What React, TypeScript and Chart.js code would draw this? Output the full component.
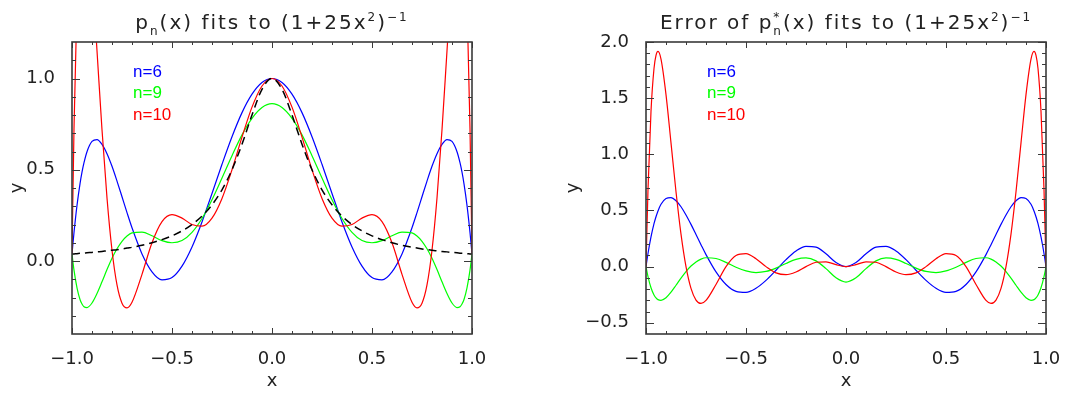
import React, { useEffect, useRef } from 'react';
import { Chart, registerables } from 'chart.js';

Chart.register(...registerables);

// ---------------- data ----------------
const xValues = [
  -1, -0.99, -0.975, -0.96, -0.95, -0.94, -0.925, -0.9, -0.875, -0.85, -0.825, -0.8, -0.775, -0.75, -0.725,
  -0.7, -0.65, -0.6, -0.55, -0.5, -0.45, -0.4, -0.35, -0.3, -0.25, -0.2, -0.15, -0.1, -0.05,
  0,
  0.05, 0.1, 0.15, 0.2, 0.25, 0.3, 0.35, 0.4, 0.45, 0.5, 0.55, 0.6, 0.65, 0.7,
  0.725, 0.75, 0.775, 0.8, 0.825, 0.85, 0.875, 0.9, 0.925, 0.94, 0.95, 0.96, 0.975, 0.99, 1,
];

// f(x) = (1+25x^2)^-1, black dashed
const fValues = [
  0.038, 0.039, 0.040, 0.042, 0.042, 0.043, 0.045, 0.047, 0.050, 0.052, 0.056, 0.059, 0.062, 0.066, 0.071,
  0.075, 0.086, 0.100, 0.117, 0.138, 0.165, 0.200, 0.246, 0.308, 0.390, 0.500, 0.640, 0.800, 0.941,
  1.000,
  0.941, 0.800, 0.640, 0.500, 0.390, 0.308, 0.246, 0.200, 0.165, 0.138, 0.117, 0.100, 0.086, 0.075,
  0.071, 0.066, 0.062, 0.059, 0.056, 0.052, 0.050, 0.047, 0.045, 0.043, 0.042, 0.042, 0.040, 0.039, 0.038,
];

// p6 (blue)
const p6Values = [
  0.038, 0.156, 0.305, 0.423, 0.487, 0.539, 0.599, 0.655, 0.665, 0.639, 0.588, 0.519, 0.438, 0.352, 0.265,
  0.182, 0.039, -0.059, -0.103, -0.091, -0.028, 0.077, 0.214, 0.370, 0.530, 0.681, 0.813, 0.914, 0.978,
  1.000,
  0.978, 0.914, 0.813, 0.681, 0.530, 0.370, 0.214, 0.077, -0.028, -0.091, -0.103, -0.059, 0.039, 0.182,
  0.265, 0.352, 0.438, 0.519, 0.588, 0.639, 0.665, 0.655, 0.599, 0.539, 0.487, 0.423, 0.305, 0.156, 0.038,
];

// p9 (green)
const p9Values = [
  0.038, -0.050, -0.147, -0.211, -0.236, -0.251, -0.255, -0.230, -0.178, -0.114, -0.047, 0.015, 0.067, 0.108, 0.137,
  0.154, 0.158, 0.138, 0.112, 0.100, 0.112, 0.157, 0.233, 0.336, 0.455, 0.577, 0.691, 0.782, 0.841,
  0.862,
  0.841, 0.782, 0.691, 0.577, 0.455, 0.336, 0.233, 0.157, 0.112, 0.100, 0.112, 0.138, 0.158, 0.154,
  0.137, 0.108, 0.067, 0.015, -0.047, -0.114, -0.178, -0.230, -0.255, -0.251, -0.236, -0.211, -0.147, -0.050, 0.038,
];

// p10 (red)
const p10Values = [
  0.038, 0.726, 1.423, 1.805, 1.924, 1.959, 1.893, 1.579, 1.152, 0.719, 0.345, 0.059, -0.131, -0.231, -0.257,
  -0.226, -0.073, 0.100, 0.216, 0.254, 0.235, 0.200, 0.191, 0.235, 0.343, 0.500, 0.679, 0.843, 0.959,
  1.000,
  0.959, 0.843, 0.679, 0.500, 0.343, 0.235, 0.191, 0.200, 0.235, 0.254, 0.216, 0.100, -0.073, -0.226,
  -0.257, -0.231, -0.131, 0.059, 0.345, 0.719, 1.152, 1.579, 1.893, 1.959, 1.924, 1.805, 1.423, 0.726, 0.038,
];

// errors p - f
const err6Values = [
  0.000, 0.117, 0.264, 0.382, 0.444, 0.496, 0.555, 0.607, 0.615, 0.587, 0.533, 0.460, 0.376, 0.286, 0.195,
  0.107, -0.047, -0.159, -0.220, -0.229, -0.193, -0.123, -0.032, 0.062, 0.139, 0.181, 0.173, 0.114, 0.037,
  0.000,
  0.037, 0.114, 0.173, 0.181, 0.139, 0.062, -0.032, -0.123, -0.193, -0.229, -0.220, -0.159, -0.047, 0.107,
  0.195, 0.286, 0.376, 0.460, 0.533, 0.587, 0.615, 0.607, 0.555, 0.496, 0.444, 0.382, 0.264, 0.117, 0.000,
];

const err9Values = [
  0.000, -0.089, -0.188, -0.252, -0.278, -0.294, -0.300, -0.277, -0.228, -0.166, -0.103, -0.044, 0.005, 0.042, 0.067,
  0.079, 0.072, 0.038, -0.005, -0.038, -0.053, -0.043, -0.013, 0.028, 0.064, 0.077, 0.051, -0.018, -0.100,
  -0.138,
  -0.100, -0.018, 0.051, 0.077, 0.064, 0.028, -0.013, -0.043, -0.053, -0.038, -0.005, 0.038, 0.072, 0.079,
  0.067, 0.042, 0.005, -0.044, -0.103, -0.166, -0.228, -0.277, -0.300, -0.294, -0.278, -0.252, -0.188, -0.089, 0.000,
];

const err10Values = [
  0.000, 0.687, 1.383, 1.764, 1.881, 1.916, 1.848, 1.532, 1.102, 0.667, 0.290, 0.000, -0.194, -0.298, -0.328,
  -0.301, -0.159, 0.000, 0.099, 0.116, 0.070, 0.000, -0.056, -0.072, -0.048, 0.000, 0.039, 0.043, 0.017,
  0.000,
  0.017, 0.043, 0.039, 0.000, -0.048, -0.072, -0.056, 0.000, 0.070, 0.116, 0.099, 0.000, -0.159, -0.301,
  -0.328, -0.298, -0.194, 0.000, 0.290, 0.667, 1.102, 1.532, 1.848, 1.916, 1.881, 1.764, 1.383, 0.687, 0.000,
];

// ticks
const xTickValues = [-1, -0.5, 0, 0.5, 1];
const xTickLabels = ['\u22121.0', '\u22120.5', '0.0', '0.5', '1.0'];
const xMinorTicks = [-0.9, -0.8, -0.7, -0.6, -0.4, -0.3, -0.2, -0.1, 0.1, 0.2, 0.3, 0.4, 0.6, 0.7, 0.8, 0.9];

const leftYTickValues = [0, 0.5, 1];
const leftYTickLabels = ['0.0', '0.5', '1.0'];
const leftYMinorTicks = [-0.3, -0.2, -0.1, 0.1, 0.2, 0.3, 0.4, 0.6, 0.7, 0.8, 0.9, 1.1];

const rightYTickValues = [-0.5, 0, 0.5, 1, 1.5, 2];
const rightYTickLabels = ['\u22120.5', '0.0', '0.5', '1.0', '1.5', '2.0'];
const rightYMinorTicks = [
  -0.4, -0.3, -0.2, -0.1, 0.1, 0.2, 0.3, 0.4, 0.6, 0.7, 0.8, 0.9,
  1.1, 1.2, 1.3, 1.4, 1.6, 1.7, 1.8, 1.9,
];

const legendLabels = ['n=6', 'n=9', 'n=10'];
const seriesColors = ['#0000ff', '#00ff00', '#ff0000'];

type Seg = { t: string; k?: 'sub' | 'sup'; stay?: boolean };

const leftTitle: Seg[] = [
  { t: 'p' }, { t: 'n', k: 'sub' }, { t: '(x) fits to (1+25x' }, { t: '2', k: 'sup' }, { t: ')' }, { t: '\u22121', k: 'sup' },
];
const rightTitle: Seg[] = [
  { t: 'Error of p' }, { t: '*', k: 'sup', stay: true }, { t: 'n', k: 'sub' }, { t: '(x) fits to (1+25x' },
  { t: '2', k: 'sup' }, { t: ')' }, { t: '\u22121', k: 'sup' },
];

// ---------------- drawing helpers ----------------
const TEXT = '#222222';
const FRAME = '#3a3a3a';
const FONT = '"DejaVu Sans", sans-serif';

function drawRich(ctx: CanvasRenderingContext2D, segs: Seg[], cx: number, baseline: number, size: number, spacing: number) {
  ctx.save();
  (ctx as any).letterSpacing = spacing + 'px';
  const small = Math.round(size * 0.6);
  const widths = segs.map((s) => {
    ctx.font = `${s.k ? small : size}px ${FONT}`;
    return ctx.measureText(s.t).width;
  });
  let total = 0;
  segs.forEach((s, i) => { if (!s.stay) total += widths[i]; });
  let x = cx - total / 2;
  ctx.fillStyle = TEXT;
  ctx.textAlign = 'left';
  ctx.textBaseline = 'alphabetic';
  segs.forEach((s, i) => {
    ctx.font = `${s.k ? small : size}px ${FONT}`;
    let y = baseline;
    if (s.k === 'sub') y = baseline + size * 0.3;
    if (s.k === 'sup') y = baseline - size * 0.42;
    ctx.fillText(s.t, x, y);
    if (!s.stay) x += widths[i];
  });
  ctx.restore();
}

type PanelSpec = {
  series: { values: number[]; color: string; width: number; dash: number[] }[];
  yMin: number;
  yMax: number;
  yTickValues: number[];
  yTickLabels: string[];
  yMinor: number[];
  title: Seg[];
  yTitleOffset: number;
  axisWidth: number;
  padRight: number;
};

function makeOverlay(spec: PanelSpec) {
  return {
    id: 'overlay',
    afterDatasetsDraw(chart: any) {
      const ctx: CanvasRenderingContext2D = chart.ctx;
      const { left, right, top, bottom } = chart.chartArea;
      const xs = chart.scales.x;
      const ys = chart.scales.y;
      ctx.save();
      ctx.strokeStyle = FRAME;
      ctx.lineWidth = 1;
      const line = (x1: number, y1: number, x2: number, y2: number) => {
        ctx.beginPath();
        ctx.moveTo(x1, y1);
        ctx.lineTo(x2, y2);
        ctx.stroke();
      };
      xTickValues.forEach((v) => {
        const p = Math.round(xs.getPixelForValue(v)) + 0.5;
        line(p, bottom, p, bottom - 6);
        line(p, top, p, top + 6);
      });
      xMinorTicks.forEach((v) => {
        const p = Math.round(xs.getPixelForValue(v)) + 0.5;
        line(p, bottom, p, bottom - 3);
        line(p, top, p, top + 3);
      });
      spec.yTickValues.forEach((v) => {
        const p = Math.round(ys.getPixelForValue(v)) + 0.5;
        line(left, p, left + 8, p);
        line(right, p, right - 8, p);
      });
      spec.yMinor.forEach((v) => {
        const p = Math.round(ys.getPixelForValue(v)) + 0.5;
        line(left, p, left + 4, p);
        line(right, p, right - 4, p);
      });
      ctx.lineWidth = 1.6;
      ctx.strokeRect(left, top, right - left, bottom - top);

      // legend
      ctx.font = `17px "Liberation Sans", sans-serif`;
      ctx.textAlign = 'left';
      ctx.textBaseline = 'middle';
      legendLabels.forEach((lab, i) => {
        ctx.fillStyle = seriesColors[i];
        ctx.fillText(lab, left + 61, top + 30 + i * 21.5);
      });

      // axis titles
      ctx.fillStyle = TEXT;
      ctx.font = `18px ${FONT}`;
      ctx.textAlign = 'center';
      ctx.textBaseline = 'middle';
      ctx.fillText('x', (left + right) / 2, bottom + 47);
      ctx.save();
      ctx.translate(left - spec.yTitleOffset, (top + bottom) / 2);
      ctx.rotate(-Math.PI / 2);
      ctx.fillText('y', 0, 0);
      ctx.restore();
      ctx.restore();

      drawRich(ctx, spec.title, (left + right) / 2, 29, 20, 2);
    },
  };
}

function Panel({ spec, left }: { spec: PanelSpec; left: number }) {
  const ref = useRef<HTMLCanvasElement | null>(null);
  useEffect(() => {
    if (!ref.current) return;
    const datasets = spec.series.map((s) => ({
      data: xValues.map((x, j) => ({ x, y: s.values[j] })),
      borderColor: s.color,
      borderWidth: s.width,
      borderDash: s.dash,
      pointRadius: 0,
      fill: false,
      cubicInterpolationMode: 'monotone' as const,
      capBezierPoints: false,
    }));
    const chart = new Chart(ref.current, {
      type: 'line',
      data: { datasets },
      plugins: [makeOverlay(spec)],
      options: {
        responsive: false,
        animation: false,
        events: [],
        layout: { padding: { left: 0, right: spec.padRight, top: 42, bottom: 0 } },
        plugins: { legend: { display: false }, tooltip: { enabled: false }, title: { display: false } },
        scales: {
          x: {
            type: 'linear',
            min: -1,
            max: 1,
            grid: { display: false },
            border: { display: false },
            afterBuildTicks: (s: any) => { s.ticks = xTickValues.map((v) => ({ value: v })); },
            afterFit: (s: any) => { s.height = 60; },
            ticks: {
              padding: 7,
              color: TEXT,
              autoSkip: false,
              maxRotation: 0,
              font: { family: FONT, size: 18 },
              callback: (_v: any, i: number) => xTickLabels[i],
            },
          },
          y: {
            type: 'linear',
            min: spec.yMin,
            max: spec.yMax,
            grid: { display: false },
            border: { display: false },
            afterBuildTicks: (s: any) => { s.ticks = spec.yTickValues.map((v) => ({ value: v })); },
            afterFit: (s: any) => { s.width = spec.axisWidth; },
            ticks: {
              padding: 9,
              color: TEXT,
              autoSkip: false,
              font: { family: FONT, size: 18 },
              callback: (_v: any, i: number) => spec.yTickLabels[i],
            },
          },
        },
      } as any,
    });
    return () => chart.destroy();
  }, [spec]);
  return (
    <canvas ref={ref} width={541} height={394} style={{ position: 'absolute', left, top: 0, width: 541, height: 394 }} />
  );
}

const leftSpec: PanelSpec = {
  series: [
    { values: fValues, color: '#000000', width: 1.5, dash: [8, 5] },
    { values: p10Values, color: seriesColors[2], width: 1.2, dash: [] },
    { values: p9Values, color: seriesColors[1], width: 1.2, dash: [] },
    { values: p6Values, color: seriesColors[0], width: 1.2, dash: [] },
  ],
  yMin: -0.4,
  yMax: 1.2,
  yTickValues: leftYTickValues,
  yTickLabels: leftYTickLabels,
  yMinor: leftYMinorTicks,
  title: leftTitle,
  yTitleOffset: 55,
  axisWidth: 72,
  padRight: 69,
};

const rightSpec: PanelSpec = {
  series: [
    { values: err10Values, color: seriesColors[2], width: 1.2, dash: [] },
    { values: err9Values, color: seriesColors[1], width: 1.2, dash: [] },
    { values: err6Values, color: seriesColors[0], width: 1.2, dash: [] },
  ],
  yMin: -0.6,
  yMax: 2.0,
  yTickValues: rightYTickValues,
  yTickLabels: rightYTickLabels,
  yMinor: rightYMinorTicks,
  title: rightTitle,
  yTitleOffset: 73,
  axisWidth: 105,
  padRight: 36,
};

export default function App() {
  return (
    <div style={{ position: 'absolute', left: 0, top: 0, width: 1082, height: 394, background: '#ffffff' }}>
      <Panel spec={leftSpec} left={0} />
      <Panel spec={rightSpec} left={541} />
    </div>
  );
}
